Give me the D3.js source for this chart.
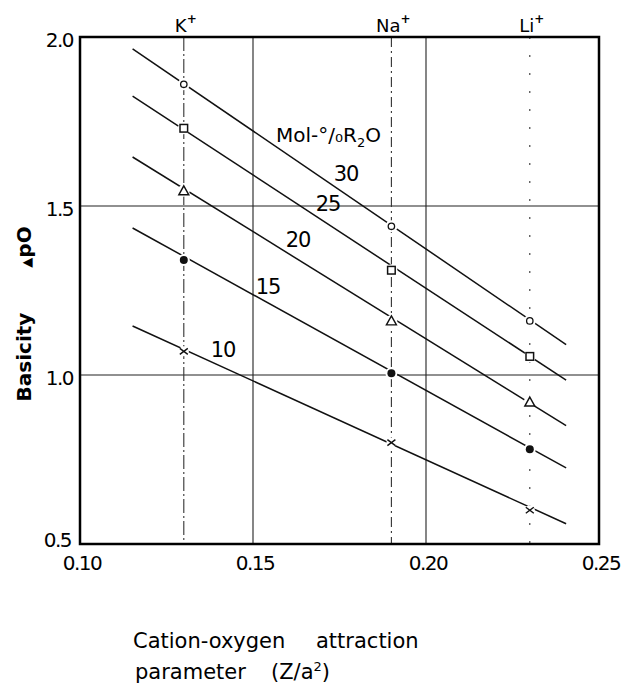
<!DOCTYPE html>
<html>
<head>
<meta charset="utf-8">
<script src="https://cdn.jsdelivr.net/npm/d3@7"></script>
<style>
  body { margin: 0; background: #fff; }
  svg { display: block; font-family: 'DejaVu Sans', sans-serif; }
</style>
</head>
<body>
<div id="chart"></div>
<script>
// Data
const cations = ['K', 'Na', 'Li'];
const cationX = [0.130, 0.190, 0.230];
const molPercent = [30, 25, 20, 15, 10];
const markerShapes = ['circle', 'square', 'triangle', 'dot', 'cross'];
// basicity at K+, Na+, Li+ for each series
const basicity30 = [1.86, 1.44, 1.16];
const basicity25 = [1.73, 1.31, 1.055];
const basicity20 = [1.545, 1.16, 0.92];
const basicity15 = [1.34, 1.005, 0.78];
const basicity10 = [1.07, 0.80, 0.60];
// fitted line ends (x from, x to, y from, y to)
const lineX = [0.1152, 0.2405];
const line30 = [1.965, 1.09];
const line25 = [1.825, 0.985];
const line20 = [1.645, 0.85];
const line15 = [1.435, 0.725];
const line10 = [1.145, 0.56];
const xTicks = [0.10, 0.15, 0.20, 0.25];
const yTicks = [0.5, 1.0, 1.5, 2.0];

const series = [basicity30, basicity25, basicity20, basicity15, basicity10];
const lines = [line30, line25, line20, line15, line10];

const CFG = {
  width: 625, height: 686,
  margin: { top: 37, left: 80, right: 26, bottom: 142 }
};
const innerW = CFG.width - CFG.margin.left - CFG.margin.right;
const innerH = CFG.height - CFG.margin.top - CFG.margin.bottom;

const svg = d3.select('#chart').append('svg')
  .attr('width', CFG.width)
  .attr('height', CFG.height);

const chart = svg.append('g')
  .attr('transform', `translate(${CFG.margin.left}, ${CFG.margin.top})`);

const x = d3.scaleLinear().domain([0.10, 0.25]).range([0, innerW]);
const y = d3.scaleLinear().domain([0.5, 2.0]).range([innerH, 0]);

// Grid lines
chart.selectAll('.vgrid')
  .data([0.15, 0.20])
  .join('line')
  .attr('x1', d => x(d)).attr('x2', d => x(d))
  .attr('y1', 0).attr('y2', innerH)
  .attr('stroke', '#222').attr('stroke-width', 1.1);

chart.selectAll('.hgrid')
  .data([1.0, 1.5])
  .join('line')
  .attr('x1', 0).attr('x2', innerW)
  .attr('y1', d => y(d)).attr('y2', d => y(d))
  .attr('stroke', '#222').attr('stroke-width', 1.1);

// Cation reference lines
const cationDash = ['14,3,2,3', '10,4,2,4', '2,16'];
chart.selectAll('.cation')
  .data(cationX)
  .join('line')
  .attr('x1', d => x(d)).attr('x2', d => x(d))
  .attr('y1', 0).attr('y2', innerH)
  .attr('stroke', '#333')
  .attr('stroke-width', 1.1)
  .attr('stroke-dasharray', (d, i) => cationDash[i]);

const cationLabels = svg.selectAll('.cation-label')
  .data(cations)
  .join('text')
  .attr('x', (d, i) => CFG.margin.left + x(cationX[i]) + 2)
  .attr('y', 32)
  .attr('text-anchor', 'middle')
  .style('font-size', '18px');
cationLabels.append('tspan').text(d => d);
cationLabels.append('tspan')
  .attr('dy', -9)
  .style('font-size', '12px')
  .style('font-weight', 'bold')
  .text('+');

// Fitted lines
chart.selectAll('.fit')
  .data(lines)
  .join('line')
  .attr('x1', x(lineX[0])).attr('x2', x(lineX[1]))
  .attr('y1', d => y(d[0])).attr('y2', d => y(d[1]))
  .attr('stroke', '#111').attr('stroke-width', 1.5);

// Markers
const symbolFor = {
  circle: g => g.append('circle').attr('r', 3.2).attr('fill', '#fff').attr('stroke', '#111').attr('stroke-width', 1.3),
  square: g => g.append('rect').attr('x', -3.8).attr('y', -3.8).attr('width', 7.6).attr('height', 7.6)
    .attr('fill', '#fff').attr('stroke', '#111').attr('stroke-width', 1.5),
  triangle: g => g.append('path').attr('d', 'M0,-5 L5,4 L-5,4 Z')
    .attr('fill', '#fff').attr('stroke', '#111').attr('stroke-width', 1.4),
  dot: g => g.append('circle').attr('r', 4).attr('fill', '#111'),
  cross: g => {
    g.append('circle').attr('r', 5).attr('fill', '#fff');
    g.append('path').attr('d', 'M-4,-3 L4,3 M-4,3 L4,-3')
      .attr('stroke', '#111').attr('stroke-width', 1.4);
  }
};

series.forEach((vals, si) => {
  vals.forEach((v, ci) => {
    const g = chart.append('g')
      .attr('transform', `translate(${x(cationX[ci])}, ${y(v)})`);
    if (markerShapes[si] !== 'cross') {
      g.append('circle').attr('r', 6).attr('fill', '#fff');
    }
    symbolFor[markerShapes[si]](g);
  });
});

// Series labels
const labelPos = [[346, 181], [328, 211], [298, 247], [268, 294], [223, 357]];
svg.selectAll('.series-label')
  .data(molPercent)
  .join('text')
  .attr('x', (d, i) => labelPos[i][0])
  .attr('y', (d, i) => labelPos[i][1])
  .attr('text-anchor', 'middle')
  .style('font-size', '21px')
  .style('letter-spacing', '-1px')
  .text(d => d);

const mol = svg.append('text')
  .attr('x', 276).attr('y', 142)
  .style('font-size', '20px');
mol.append('tspan').text('Mol-°/₀R');
mol.append('tspan').attr('dy', 5).style('font-size', '13px').text('2');
mol.append('tspan').attr('dy', -5).text('O');

// Frame
chart.append('rect')
  .attr('width', innerW).attr('height', innerH)
  .attr('fill', 'none').attr('stroke', '#000').attr('stroke-width', 2.5);

// Tick labels
svg.selectAll('.ytick')
  .data(yTicks)
  .join('text')
  .attr('x', d => d === 0.5 ? 71 : 73)
  .attr('y', d => CFG.margin.top + y(d) + (d === 0.5 ? 3 : 10))
  .attr('text-anchor', 'end')
  .style('font-size', '20px')
  .style('letter-spacing', '-1.5px')
  .text(d => d3.format('.1f')(d));

svg.selectAll('.xtick')
  .data(xTicks)
  .join('text')
  .attr('x', d => CFG.margin.left + x(d) + 2)
  .attr('y', CFG.margin.top + innerH + 26)
  .attr('text-anchor', 'middle')
  .style('font-size', '20px')
  .style('letter-spacing', '-1.5px')
  .text(d => d3.format('.2f')(d));

// Axis titles
svg.append('text')
  .attr('transform', 'translate(31, 357) rotate(-90)')
  .attr('text-anchor', 'middle')
  .style('font-size', '20px')
  .style('font-weight', 'bold')
  .text('Basicity');

const dpo = svg.append('text')
  .attr('transform', 'translate(31, 247) rotate(-90)')
  .attr('text-anchor', 'middle')
  .style('font-size', '20px')
  .style('font-weight', 'bold');
dpo.append('tspan').style('font-size', '13px').text('▲');
dpo.append('tspan').text('pO');

svg.append('text')
  .attr('x', 133).attr('y', 648)
  .style('font-size', '21px')
  .text('Cation-oxygen');
svg.append('text')
  .attr('x', 316).attr('y', 648)
  .style('font-size', '21px')
  .text('attraction');

svg.append('text')
  .attr('x', 135).attr('y', 679)
  .style('font-size', '21px')
  .text('parameter');
const xt2 = svg.append('text')
  .attr('x', 271).attr('y', 679)
  .style('font-size', '21px');
xt2.append('tspan').text('(Z/a');
xt2.append('tspan').attr('dy', -8).style('font-size', '13px').text('2');
xt2.append('tspan').attr('dy', 8).text(')');
</script>
</body>
</html>
